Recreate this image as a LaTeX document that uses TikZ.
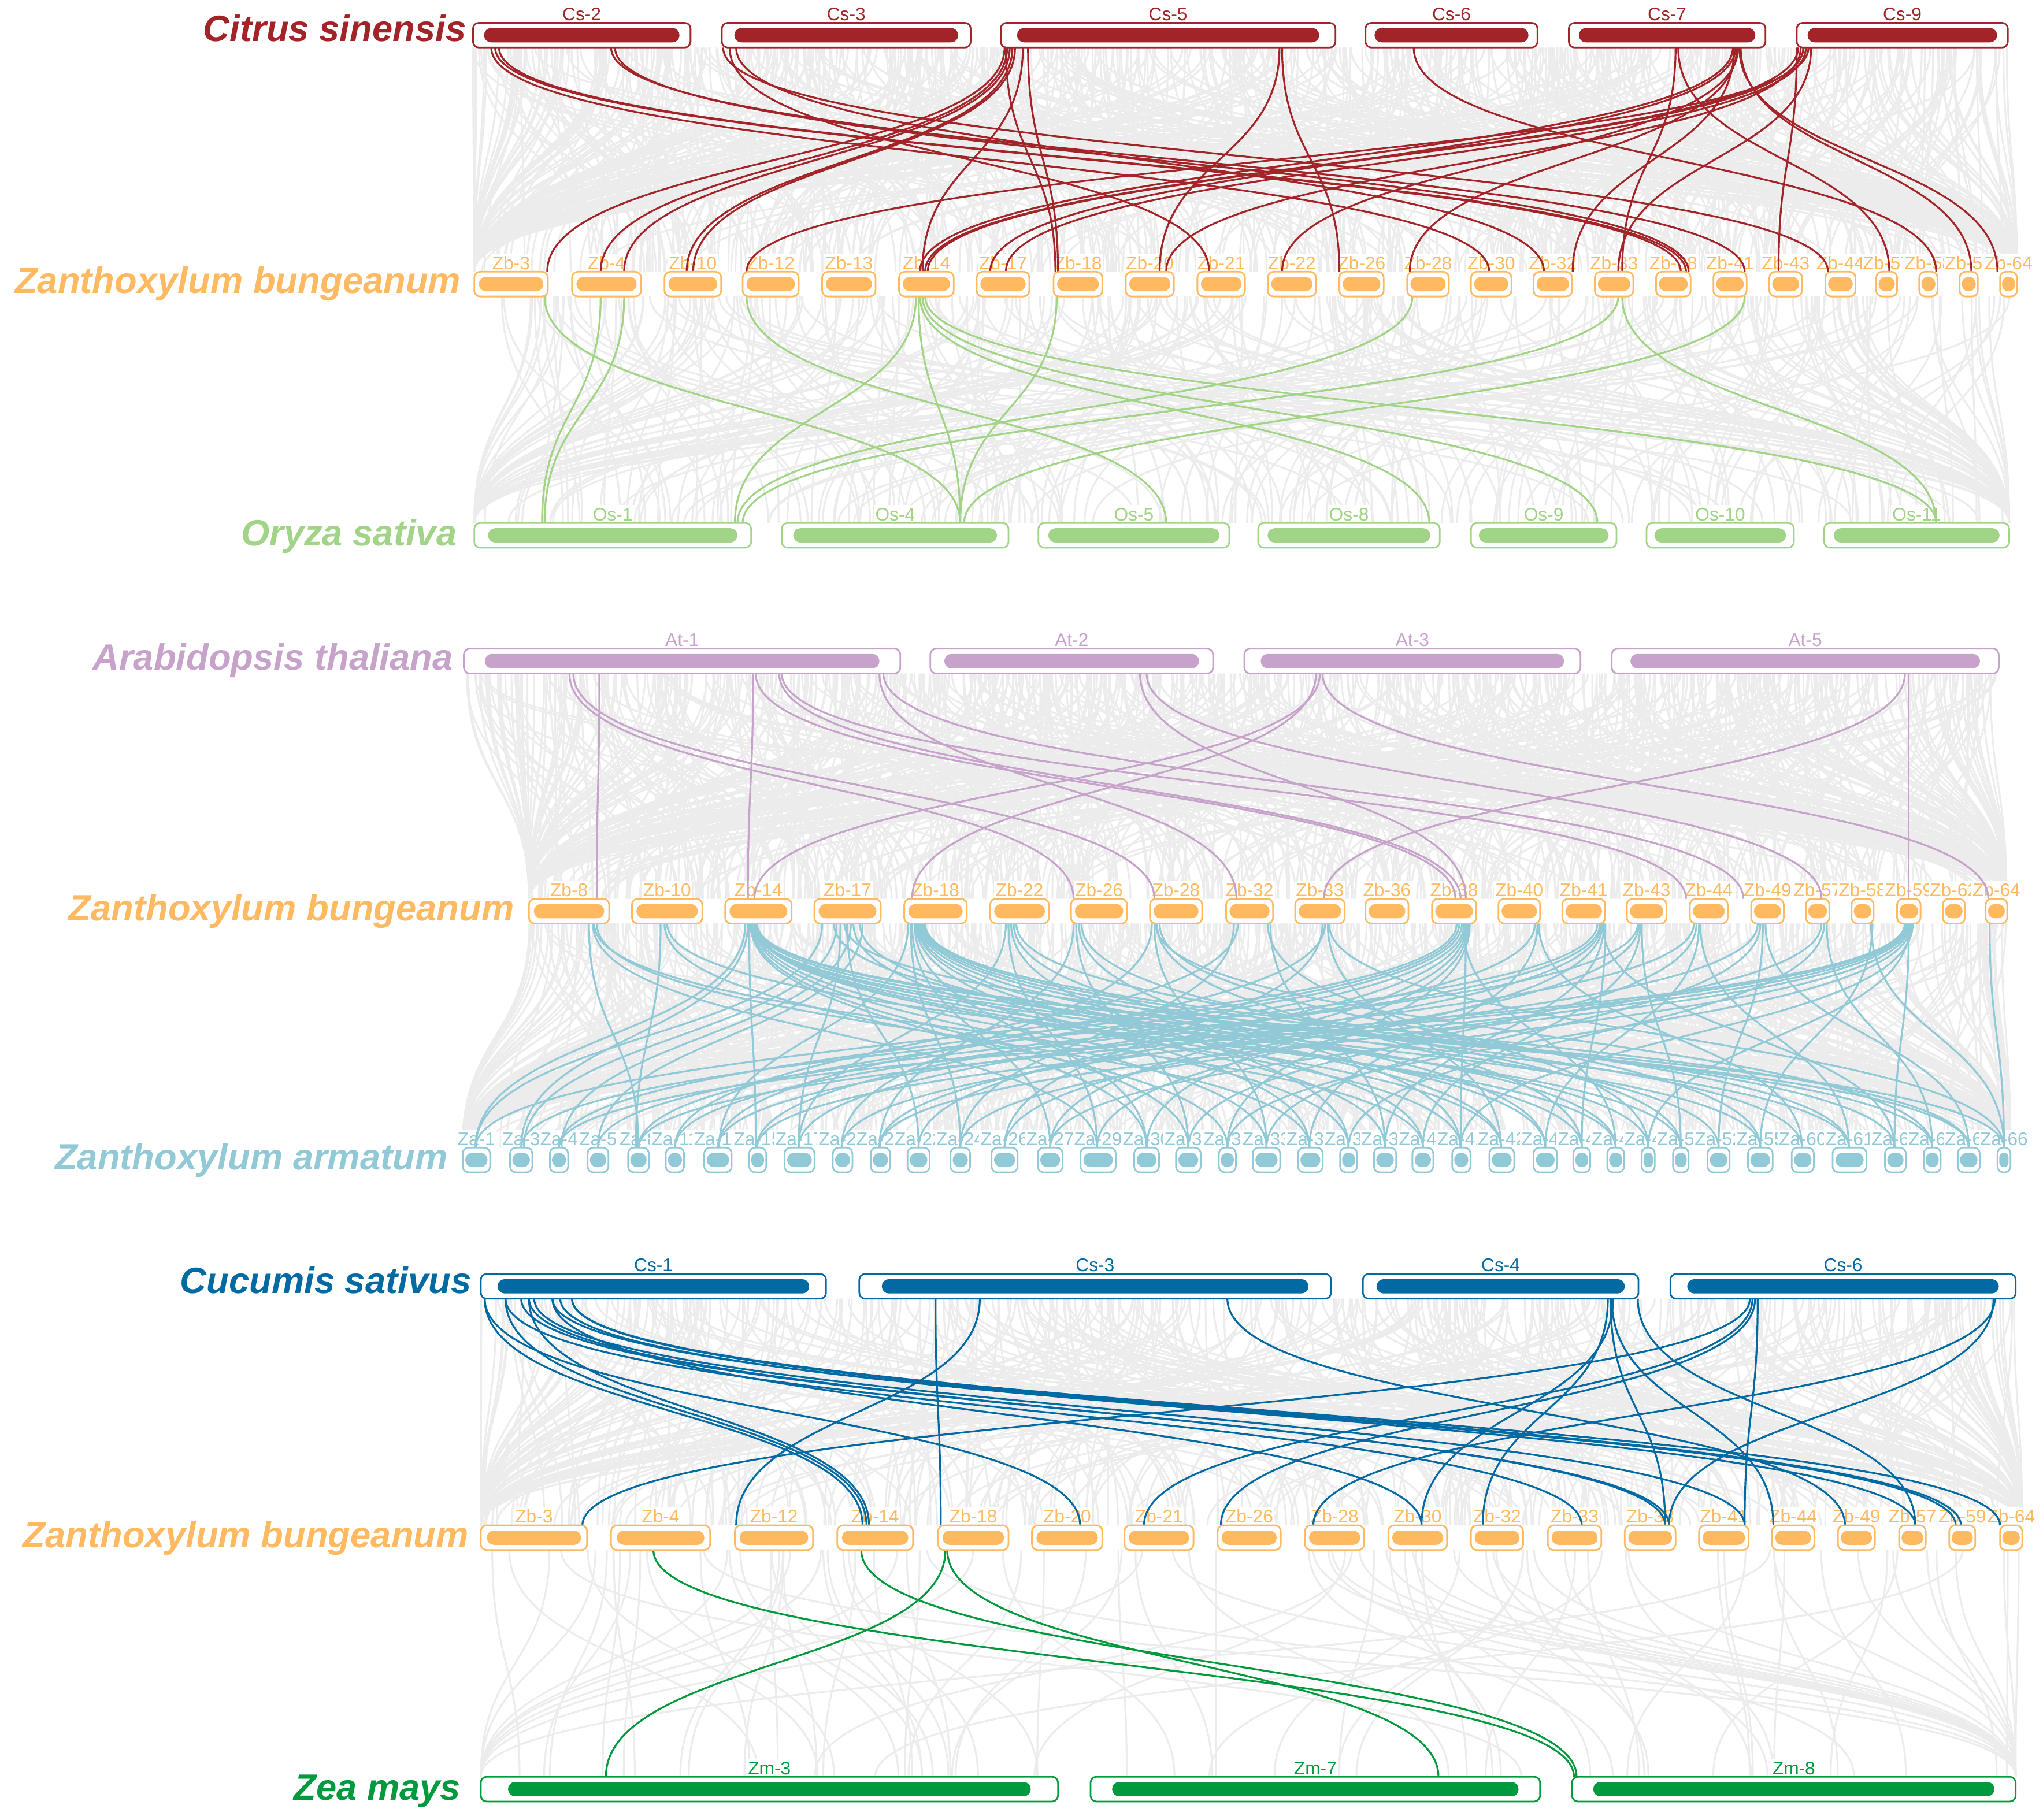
\documentclass[tikz,border=0pt]{standalone}
\usepackage{fontspec}
\setmainfont{Liberation Sans}
\definecolor{csred}{RGB}{163,36,40}
\definecolor{zbor}{RGB}{254,185,97}
\definecolor{osgr}{RGB}{161,212,134}
\definecolor{atpu}{RGB}{199,163,203}
\definecolor{zabl}{RGB}{146,201,215}
\definecolor{cublue}{RGB}{2,106,162}
\definecolor{zmgr}{RGB}{0,154,62}
\definecolor{lgray}{RGB}{236,236,236}
\tikzset{
  graylink/.style={draw=lgray, line width=0.8pt},
  clink/.style={line width=0.8pt},
  chrlab/.style={anchor=base, font=\fontsize{8}{9.6}\selectfont, fill=white, inner xsep=0.6pt, inner ysep=1.2pt},
  species/.style={anchor=base east, font=\fontsize{16}{19}\selectfont\bfseries\itshape, inner sep=0pt},
}
\newcommand{\chromo}[4]{%
  \pgfmathsetmacro{\cL}{(#3)-(#2)}%
  \pgfmathsetmacro{\cI}{1+0.045*\cL}%
  \pgfmathsetmacro{\cRo}{0.569*min(4.5,\cL/2-0.2)}%
  \pgfmathsetmacro{\cRi}{0.569*min(5.4,(\cL-2*\cI)/2-0.2)}%
  \draw[draw=#1, line width=0.7pt, fill=white, rounded corners=\cRo pt] (#2,#4) rectangle (#3,#4+19);
  \fill[#1, rounded corners=\cRi pt] ({#2+\cI},#4+4) rectangle ({#3-\cI},#4+15);
}
\newcommand{\grays}[8]{%
  \foreach \i in {1,...,#1}{%
    \pgfmathsetmacro{\ga}{#4+rnd*(#5-#4)}%
    \pgfmathsetmacro{\gb}{max(#6,min(#7,\ga+(rnd-0.5)*#8))}%
    \draw[graylink] (\ga,#2) .. controls (\ga,{(#2+#3)/2}) and (\gb,{(#2+#3)/2}) .. (\gb,#3);
  }}
\newcommand{\band}[4]{\foreach \p/\q in {#4}{\draw[clink,#1] (\p,#2) .. controls (\p,{(#2+#3)/2}) and (\q,{(#2+#3)/2}) .. (\q,#3);}}
\def\rowCs{363/530/Cs-2, 554/745/Cs-3, 768/1025/Cs-5, 1048/1180/Cs-6, 1204/1355/Cs-7, 1379/1541/Cs-9}
\def\rowZbB{364/420.5/Zb-3, 439/492/Zb-4, 510/553.5/Zb-10, 570/613/Zb-12, 631/672/Zb-13, 690/732/Zb-14, 749.6/790/Zb-17, 808.6/846/Zb-18, 864/901/Zb-20, 919/955.5/Zb-21, 973/1010/Zb-22, 1028/1062/Zb-26, 1080/1112/Zb-28, 1129/1160/Zb-30, 1177/1206.5/Zb-32, 1224/1253.5/Zb-33, 1271/1297.5/Zb-38, 1315/1340.5/Zb-41, 1358/1383/Zb-43, 1401/1424/Zb-44, 1440/1456/Zb-57, 1473/1487/Zb-58, 1504/1518/Zb-59, 1535/1548/Zb-64}
\def\rowOs{364/576.5/Os-1, 600/774/Os-4, 797/943.5/Os-5, 965.6/1105/Os-8, 1129/1240.6/Os-9, 1263.7/1376.8/Os-10, 1400/1542/Os-11}
\def\rowAt{356/691/At-1, 714/931/At-2, 955/1213/At-3, 1237/1534/At-5}
\def\rowZbE{406/467.5/Zb-8, 485/539/Zb-10, 556.6/607.6/Zb-14, 625/676/Zb-17, 694/742/Zb-18, 760/805/Zb-22, 822/865/Zb-26, 882.6/922.6/Zb-28, 941/977/Zb-32, 994/1032/Zb-33, 1048/1081/Zb-36, 1099/1133/Zb-38, 1150/1182/Zb-40, 1199/1232/Zb-41, 1248.6/1279/Zb-43, 1297/1326/Zb-44, 1344/1369/Zb-49, 1386/1404/Zb-57, 1421/1438/Zb-58, 1456/1474/Zb-59, 1491/1508/Zb-62, 1524/1540.5/Zb-64}
\def\rowZa{365.6/21/Za-1, 400/17/Za-3, 429/14/Za-4, 459/16/Za-5, 490/16/Za-8, 518/14/Za-11, 551/21/Za-13, 581.5/13/Za-15, 613.6/23/Za-17, 646.7/15/Za-20, 675.7/15/Za-21, 705/17/Za-22, 737/15/Za-24, 771/20/Za-26, 806/19/Za-27, 842.8/27/Za-29, 880/19/Za-30, 912/19/Za-31, 942/13/Za-32, 972/21/Za-33, 1005.7/19/Za-34, 1035/13/Za-36, 1063/17/Za-38, 1092/16/Za-40, 1121.5/14/Za-41, 1152.6/19/Za-42, 1186/18/Za-43, 1214/13/Za-44, 1240/13/Za-46, 1265/10/Za-48, 1290/12/Za-50, 1319/17/Za-52, 1351/19/Za-55, 1383.6/17/Za-60, 1419.5/26/Za-61, 1454.7/16/Za-62, 1483/13/Za-63, 1511/17/Za-65, 1538/10/Za-66}
\def\rowCu{369/634/Cs-1, 659.5/1021.5/Cs-3, 1046/1257.5/Cs-4, 1282/1547/Cs-6}
\def\rowZbH{369/450.6/Zb-3, 469/545/Zb-4, 564/624/Zb-12, 642.6/700.7/Zb-14, 720/774/Zb-18, 792/846/Zb-20, 863/916/Zb-21, 934.5/983/Zb-26, 1001.6/1047/Zb-28, 1065.5/1110.6/Zb-30, 1129/1169/Zb-32, 1188/1229/Zb-33, 1247/1286/Zb-38, 1304/1342/Zb-41, 1360/1392.4/Zb-44, 1410.6/1439/Zb-49, 1457.5/1478/Zb-57, 1496/1516/Zb-59, 1535/1552/Zb-64}
\def\rowZm{369/812/Zm-3, 837/1182/Zm-7, 1206.5/1547/Zm-8}
\begin{document}
\begin{tikzpicture}[x=0.02cm,y=-0.02cm]
\useasboundingbox (0,0) rectangle (1568,1397);
\pgfmathsetseed{12345}
% ---------- gray background links ----------
\grays{450}{36.5}{208.6}{363}{1541}{364}{1548}{260}
\grays{250}{36.5}{208.6}{363}{1541}{364}{1548}{2400}
\grays{180}{227.6}{401.5}{364}{1548}{364}{1542}{300}
\grays{150}{227.6}{401.5}{364}{1548}{364}{1542}{2400}
\grays{450}{517}{690}{356}{1534}{406}{1540}{300}
\grays{300}{517}{690}{356}{1534}{406}{1540}{2400}
\grays{400}{709}{881}{406}{1540}{355}{1543}{300}
\grays{300}{709}{881}{406}{1540}{355}{1543}{2400}
\grays{250}{997}{1171}{369}{1547}{369}{1552}{300}
\grays{200}{997}{1171}{369}{1547}{369}{1552}{2400}
\grays{45}{1190}{1364}{369}{1552}{369}{1547}{300}
\grays{50}{1190}{1364}{369}{1552}{369}{1547}{2400}
% ---------- chromosome labels ----------
\foreach \a/\b/\t in \rowCs {\node[chrlab,text=csred] at ({(\a+\b)/2},15.7) {\t};}
\foreach \a/\b/\t in \rowZbB {\node[chrlab,text=zbor] at ({(\a+\b)/2},206.8) {\t};}
\foreach \a/\b/\t in \rowOs {\node[chrlab,text=osgr] at ({(\a+\b)/2},399.7) {\t};}
\foreach \a/\b/\t in \rowAt {\node[chrlab,text=atpu] at ({(\a+\b)/2},496.2) {\t};}
\foreach \a/\b/\t in \rowZbE {\node[chrlab,text=zbor] at ({(\a+\b)/2},688.2) {\t};}
\foreach \c/\w/\t in \rowZa {\node[chrlab,text=zabl] at (\c,879.2) {\t};}
\foreach \a/\b/\t in \rowCu {\node[chrlab,text=cublue] at ({(\a+\b)/2},976.2) {\t};}
\foreach \a/\b/\t in \rowZbH {\node[chrlab,text=zbor] at ({(\a+\b)/2},1169.2) {\t};}
\foreach \a/\b/\t in \rowZm {\node[chrlab,text=zmgr] at ({(\a+\b)/2},1362.2) {\t};}
% ---------- coloured links ----------
\band{csred}{36.5}{208.6}{377/1143, 380/1290, 383/1294, 469/1339, 472/1296, 555/1403, 560/928, 565/1185, 771/420, 773/461, 775/479, 777/527, 779/532, 772/810, 789/812, 785/708, 982/890, 984/1028, 1085/1486, 1286/1245, 1288/1450, 1330/706, 1332/760, 1334/984, 1336/1513, 1333/1082, 1331/1207, 1379/1365, 1380/710, 1384/712, 1386/772, 1388/573, 1390/1242, 1382/895, 1335/1533}
\band{osgr}{227.6}{401.5}{418/737, 461/416, 479/418, 573/895, 703/564, 705/737, 706/1097, 708/1226, 710/1486, 811/737, 1084/566, 1242/570, 1339/740, 1245/1486}
\band{atpu}{517}{690}{437/824, 440/886, 460/458, 578/574, 580/1117, 598/1121, 600/1294, 675/949, 678/1338, 875/1125, 880/1398, 1010/700, 1013/579, 1015/1526, 1465/1465, 1462/1016}
\band{zabl}{709}{881}{452/490, 455/842, 458/1005, 456/1092, 507/488, 510/942, 512/1240, 575/580, 572/365, 574/400, 576/880, 577/912, 578/972, 579/1035, 580/1121, 581/1152, 578/1214, 577/1290, 576/1351, 579/1419, 580/1511, 581/1538, 631/365, 642/402, 653/431, 662/459, 645/613, 650/705, 655/1063, 660/1186, 640/1265, 648/1483, 697/552, 699/737, 700/806, 702/880, 703/1005, 704/1092, 705/1152, 706/1240, 707/1319, 708/1383, 709/1454, 710/1511, 772/613, 774/842, 776/1035, 778/1186, 780/1419, 824/675, 826/912, 828/1121, 830/1290, 884/646, 886/972, 888/1214, 890/1351, 887/1483, 947/737, 950/518, 975/1063, 973/1265, 1015/771, 1017/551, 1019/1152, 1020/1538, 1118/365, 1120/429, 1122/490, 1124/581, 1125/705, 1126/806, 1127/880, 1128/942, 1125/1121, 1123/1240, 1178/613, 1180/1005, 1181/1383, 1226/400, 1228/518, 1229/675, 1230/842, 1231/1063, 1232/1214, 1230/1454, 1257/459, 1258/771, 1259/1092, 1260/1290, 1300/551, 1302/912, 1304/1186, 1305/1419, 1349/646, 1351/972, 1353/1319, 1355/1511, 1398/737, 1400/1035, 1402/1483, 1437/1351, 1436/1538, 1462/429, 1463/490, 1464/581, 1465/675, 1466/806, 1467/942, 1468/1121, 1466/1265, 1465/1454, 1527/1538}
\band{cublue}{997}{1171}{372/662, 388/665, 406/667, 372/829, 388/1214, 406/1278, 400/1281, 424/1091, 424/1501, 439/1505, 439/1535, 430/1470, 410/1339, 718/722, 752/565, 942/1416, 1234/1138, 1236/1278, 1238/1091, 1257/1470, 1237/1361, 1343/447, 1345/878, 1347/937, 1349/1339, 1531/1008, 1530/1281}
\band{zmgr}{1190}{1364}{501.5/1208, 661/1210, 725.6/465, 727/1104}
% ---------- chromosomes ----------
\foreach \a/\b/\t in \rowCs {\chromo{csred}{\a}{\b}{17.5}}
\foreach \a/\b/\t in \rowZbB {\chromo{zbor}{\a}{\b}{208.6}}
\foreach \a/\b/\t in \rowOs {\chromo{osgr}{\a}{\b}{401.5}}
\foreach \a/\b/\t in \rowAt {\chromo{atpu}{\a}{\b}{498}}
\foreach \a/\b/\t in \rowZbE {\chromo{zbor}{\a}{\b}{690}}
\foreach \c/\w/\t in \rowZa {\chromo{zabl}{\c-\w/2}{\c+\w/2}{881}}
\foreach \a/\b/\t in \rowCu {\chromo{cublue}{\a}{\b}{978}}
\foreach \a/\b/\t in \rowZbH {\chromo{zbor}{\a}{\b}{1171}}
\foreach \a/\b/\t in \rowZm {\chromo{zmgr}{\a}{\b}{1364}}
% ---------- species ----------
\node[species,text=csred] (sp1) at (358,31.5) {Citrus sinensis};
\node[species,text=zbor] (sp2) at (354,225) {Zanthoxylum bungeanum};
\node[species,text=osgr] (sp3) at (351,419) {Oryza sativa};
\node[species,text=atpu] (sp4) at (348,514.5) {Arabidopsis thaliana};
\node[species,text=zbor] (sp5) at (395,707) {Zanthoxylum bungeanum};
\node[species,text=zabl] (sp6) at (344,898) {Zanthoxylum armatum};
\node[species,text=cublue] (sp7) at (362,993) {Cucumis sativus};
\node[species,text=zbor] (sp8) at (360,1188) {Zanthoxylum bungeanum};
\node[species,text=zmgr] (sp9) at (354,1382) {Zea mays};
\end{tikzpicture}
\end{document}
